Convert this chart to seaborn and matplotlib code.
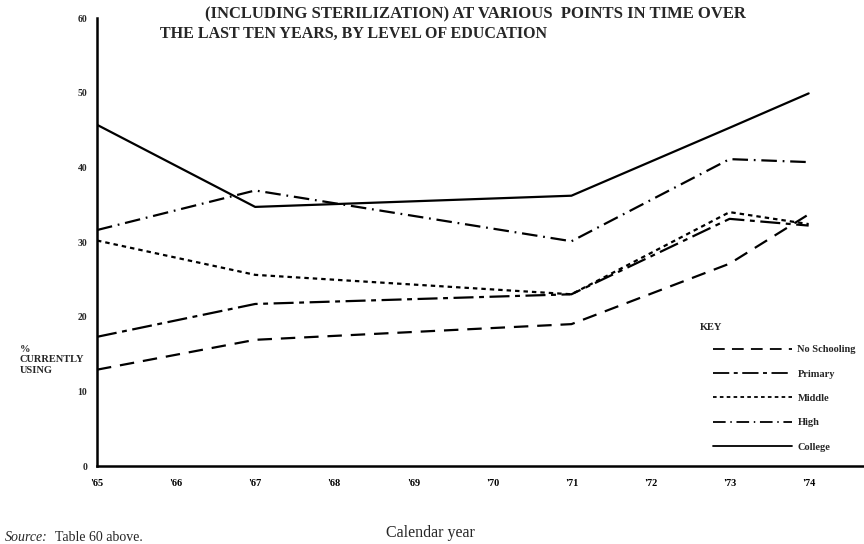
import pandas as pd
import seaborn as sns
import matplotlib.pyplot as plt

# values (% currently using)
years = [1965, 1967, 1971, 1973, 1974]
no_schooling = [12.9, 16.9, 19.0, 27.1, 33.7]
primary = [17.3, 21.7, 23.0, 33.1, 32.2]
middle = [30.2, 25.6, 23.0, 34.0, 32.4]
high = [31.6, 36.9, 30.1, 41.1, 40.7]
college = [45.7, 34.7, 36.2, 45.3, 49.9]

levels = ["No Schooling", "Primary", "Middle", "High", "College"]
tick_years = list(range(1965, 1975))
tick_labels = ["'65", "'66", "'67", "'68", "'69", "'70", "'71", "'72", "'73", "'74"]
y_ticks = [0, 10, 20, 30, 40, 50, 60]

df = pd.DataFrame({
    "year": years * 5,
    "pct": no_schooling + primary + middle + high + college,
    "level": [lv for lv in levels for _ in years],
})

sns.set_theme(style="white")
plt.rcParams["font.family"] = ["Liberation Serif", "DejaVu Serif"]

fig = plt.figure(figsize=(8.64, 5.44), dpi=100)
ax = fig.add_axes([97 / 864, 1 - 466 / 544, (864 - 97) / 864, (466 - 18) / 544])

dash_styles = {
    "No Schooling": (6.5, 4),
    "Primary": (9, 2.5, 2.2, 2.5),
    "Middle": (2, 1.8),
    "High": (7, 2.6, 0.8, 2.6),
    "College": "",
}
sns.lineplot(data=df, x="year", y="pct", style="level", style_order=levels,
             dashes=dash_styles, color="black", linewidth=1.6, legend=False, ax=ax)

ax.set_xlim(1965, 1974.7)
ax.set_ylim(0, 60)
ax.set_xticks(tick_years)
ax.set_xticklabels(tick_labels, fontsize=7.5, fontweight="bold")
ax.set_yticks(y_ticks)
ax.set_yticklabels([str(v) for v in y_ticks], fontsize=7, fontweight="bold")
ax.tick_params(axis="y", length=0, pad=7)
ax.tick_params(axis="x", direction="in", length=3, width=1, pad=9, colors="black")
ax.set_xlabel("")
ax.set_ylabel("")
for side in ["top", "right"]:
    ax.spines[side].set_visible(False)
for side in ["left", "bottom"]:
    ax.spines[side].set_color("black")
    ax.spines[side].set_linewidth(1.8)
ax.patch.set_alpha(0)

# key: title as plain text, entries as a frameless legend
fig.text(700 / 864, 1 - 328 / 544, "KEY", fontsize=7.5, fontweight="bold", ha="left", va="center")
leg = ax.legend(handles=ax.lines[:5], labels=levels, loc="upper left",
                bbox_to_anchor=(713 / 864, 1 - 345 / 544), bbox_transform=fig.transFigure,
                frameon=False, handlelength=7.6, labelspacing=1.45,
                handletextpad=0.5, borderpad=0, borderaxespad=0,
                prop={"weight": "bold", "size": 7.5})
for ln in leg.get_lines():
    ln.set_linewidth(1.3)

fig.text(205 / 864, 1 - 18 / 544, "(INCLUDING STERILIZATION) AT VARIOUS  POINTS IN TIME OVER",
         fontsize=12, fontweight="bold", ha="left", va="baseline")
fig.text(160 / 864, 1 - 38 / 544, "THE LAST TEN YEARS, BY LEVEL OF EDUCATION",
         fontsize=11.5, fontweight="bold", ha="left", va="baseline")
fig.text(20 / 864, 1 - 360 / 544, "%\nCURRENTLY\nUSING", fontsize=7.5, fontweight="bold",
         ha="left", va="center", linespacing=1.25)
fig.text(430 / 864, 1 - 533 / 544, "Calendar year", fontsize=11.5, ha="center", va="center")
fig.text(5 / 864, 1 - 531 / 544, "Source:", fontsize=10, style="italic", ha="left", va="top")
fig.text(55 / 864, 1 - 531 / 544, "Table 60 above.", fontsize=10, ha="left", va="top")

fig.savefig("out.png", dpi=100)
